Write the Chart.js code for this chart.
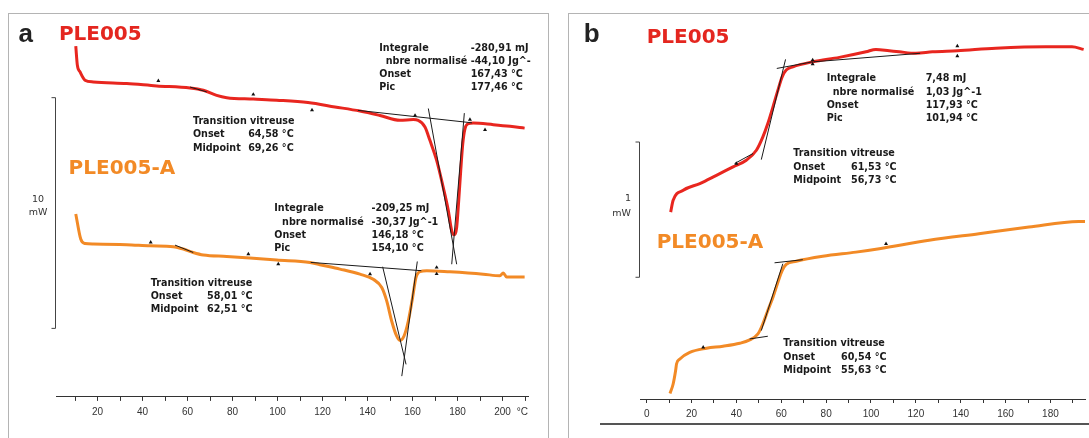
<!DOCTYPE html>
<html>
<head>
<meta charset="utf-8">
<title>DSC PLE005 / PLE005-A</title>
<script src="https://cdn.jsdelivr.net/npm/chart.js@4.4.1/dist/chart.umd.min.js"></script>
<style>
    html, body { margin: 0; padding: 0; background: #fff; }
    #page { position: relative; width: 1089px; height: 438px; overflow: hidden; background: #fff; }
    canvas { position: absolute; top: 0; }
    .frame { position: absolute; border: 1px solid #b4b4b4; }
    .rule { position: absolute; background: #555; }
    .txt { position: absolute; white-space: nowrap; line-height: 1; transform: translateY(-50%); color: #1a1a1a; }
    .note { font: bold 9.6px "DejaVu Sans", Verdana, sans-serif; }
    .title { font: bold 20px "DejaVu Sans", Verdana, sans-serif; }
    .red { color: #e4261f; }
    .orange { color: #f28a26; }
    .letter { font: bold 26px "Liberation Sans", Arial, sans-serif; color: #222; }
    .unit { font: 9.5px "DejaVu Sans", Verdana, sans-serif; color: #333; text-align: center; }
    .deg { font: 10px "Liberation Sans", Arial, sans-serif; color: #333; }
</style>
</head>
<body>
<div id="page">
    <div class="frame" style="left:8px;top:13px;width:539px;height:440px"></div>
    <div class="frame" style="left:568px;top:13px;width:540px;height:440px"></div>
    <div class="rule" style="left:600px;top:423px;width:489px;height:2px"></div>

    <canvas id="chartA" width="560" height="438" style="left:0"></canvas>
    <canvas id="chartB" width="529" height="438" style="left:560px"></canvas>

    <!-- panel a -->
    <div class="txt letter" style="left:18.6px;top:32.7px">a</div>
    <div class="txt title red" style="left:58.9px;top:33.3px">PLE005</div>
    <div class="txt title orange" style="left:68.6px;top:166.7px">PLE005-A</div>

    <div class="txt note" style="left:379.3px;top:46.7px">Integrale</div>
    <div class="txt note" style="left:385.7px;top:60px">nbre normalisé</div>
    <div class="txt note" style="left:379.3px;top:72.5px">Onset</div>
    <div class="txt note" style="left:379.3px;top:85.7px">Pic</div>
    <div class="txt note" style="left:470.7px;top:46.7px">-280,91 mJ</div>
    <div class="txt note" style="left:470.7px;top:60px">-44,10 Jg^-</div>
    <div class="txt note" style="left:470.7px;top:72.5px">167,43 °C</div>
    <div class="txt note" style="left:470.7px;top:85.7px">177,46 °C</div>

    <div class="txt note" style="left:192.9px;top:120px">Transition vitreuse</div>
    <div class="txt note" style="left:192.9px;top:133.3px">Onset</div>
    <div class="txt note" style="left:192.9px;top:146.7px">Midpoint</div>
    <div class="txt note" style="left:248.2px;top:133.3px">64,58 °C</div>
    <div class="txt note" style="left:248.2px;top:146.7px">69,26 °C</div>

    <div class="txt note" style="left:274.3px;top:207.3px">Integrale</div>
    <div class="txt note" style="left:282.1px;top:221px">nbre normalisé</div>
    <div class="txt note" style="left:274.3px;top:234px">Onset</div>
    <div class="txt note" style="left:274.3px;top:246.7px">Pic</div>
    <div class="txt note" style="left:371.5px;top:207.3px">-209,25 mJ</div>
    <div class="txt note" style="left:371.5px;top:221px">-30,37 Jg^-1</div>
    <div class="txt note" style="left:371.5px;top:234px">146,18 °C</div>
    <div class="txt note" style="left:371.5px;top:246.7px">154,10 °C</div>

    <div class="txt note" style="left:150.7px;top:281.7px">Transition vitreuse</div>
    <div class="txt note" style="left:150.7px;top:295px">Onset</div>
    <div class="txt note" style="left:150.7px;top:307.7px">Midpoint</div>
    <div class="txt note" style="left:207.1px;top:295px">58,01 °C</div>
    <div class="txt note" style="left:207.1px;top:307.7px">62,51 °C</div>

    <div class="txt unit" style="left:24px;width:28px;top:198px">10</div>
    <div class="txt unit" style="left:24px;width:28px;top:211.3px">mW</div>
    <div class="txt deg" style="left:516.7px;top:411px">°C</div>

    <!-- panel b -->
    <div class="txt letter" style="left:583.7px;top:32.7px">b</div>
    <div class="txt title red" style="left:646.7px;top:36px">PLE005</div>
    <div class="txt title orange" style="left:656.7px;top:240.7px">PLE005-A</div>

    <div class="txt note" style="left:826.7px;top:76.7px">Integrale</div>
    <div class="txt note" style="left:832.7px;top:90.7px">nbre normalisé</div>
    <div class="txt note" style="left:826.7px;top:103.5px">Onset</div>
    <div class="txt note" style="left:826.7px;top:117px">Pic</div>
    <div class="txt note" style="left:925.7px;top:76.7px">7,48 mJ</div>
    <div class="txt note" style="left:925.7px;top:90.7px">1,03 Jg^-1</div>
    <div class="txt note" style="left:925.7px;top:103.5px">117,93 °C</div>
    <div class="txt note" style="left:925.7px;top:117px">101,94 °C</div>

    <div class="txt note" style="left:793.3px;top:152px">Transition vitreuse</div>
    <div class="txt note" style="left:793.3px;top:165.7px">Onset</div>
    <div class="txt note" style="left:793.3px;top:179px">Midpoint</div>
    <div class="txt note" style="left:851px;top:165.7px">61,53 °C</div>
    <div class="txt note" style="left:851px;top:179px">56,73 °C</div>

    <div class="txt note" style="left:783.3px;top:341.7px">Transition vitreuse</div>
    <div class="txt note" style="left:783.3px;top:355.7px">Onset</div>
    <div class="txt note" style="left:783.3px;top:369px">Midpoint</div>
    <div class="txt note" style="left:841px;top:355.7px">60,54 °C</div>
    <div class="txt note" style="left:841px;top:369px">55,63 °C</div>

    <div class="txt unit" style="left:600px;width:31px;top:196.7px;text-align:right">1</div>
    <div class="txt unit" style="left:600px;width:31px;top:211.5px;text-align:right">mW</div>
</div>

<script>
// Temperatures (°C) and heat flow (mW, arbitrary offset)
var tempRedA = [10.3, 11.0, 12.2, 14.4, 18.1, 32.9, 46.3, 61.1, 67.0, 72.9, 77.4, 89.2, 99.6, 113.5, 125.5, 136.6, 145.5, 154.4, 160.3, 162.5, 165.5, 167.7, 170.7, 173.6, 175.9, 177.4, 178.4, 179.6, 180.5, 181.4, 182.3, 183.3, 184.8, 187.0, 195.9, 203.3, 209.8];
var flowRedA = [15.20, 14.38, 14.09, 13.73, 13.65, 13.58, 13.48, 13.39, 13.29, 13.07, 12.97, 12.91, 12.86, 12.76, 12.57, 12.39, 12.20, 11.99, 12.02, 11.99, 11.70, 11.12, 10.25, 9.09, 8.07, 7.20, 7.03, 7.35, 8.51, 9.81, 10.97, 11.63, 11.84, 11.87, 11.80, 11.73, 11.65];

var tempOrangeA = [10.3, 12.5, 14.4, 18.1, 32.9, 43.3, 53.6, 58.1, 62.5, 67.0, 77.4, 87.7, 99.6, 114.4, 118.8, 127.7, 136.6, 142.5, 146.3, 148.5, 150.7, 152.9, 154.4, 156.2, 158.1, 160.0, 161.5, 163.3, 166.3, 176.6, 191.4, 198.8, 200.3, 201.8, 209.8];
var flowOrangeA = [7.93, 6.84, 6.65, 6.63, 6.60, 6.55, 6.51, 6.41, 6.26, 6.15, 6.09, 6.02, 5.93, 5.83, 5.73, 5.54, 5.32, 5.10, 4.74, 4.16, 3.29, 2.64, 2.45, 2.64, 3.29, 4.30, 5.17, 5.43, 5.47, 5.42, 5.32, 5.25, 5.37, 5.20, 5.20];

var tempRedB = [10.7, 11.8, 16.3, 23.7, 31.1, 38.5, 44.4, 48.9, 51.8, 54.0, 56.3, 58.5, 60.4, 62.2, 65.2, 74.0, 85.9, 97.8, 102.2, 108.1, 112.6, 120.0, 127.4, 138.5, 155.6, 177.8, 189.6, 194.8];
var flowRedB = [1.382, 1.469, 1.543, 1.593, 1.654, 1.716, 1.765, 1.839, 1.938, 2.037, 2.160, 2.284, 2.382, 2.432, 2.456, 2.493, 2.526, 2.567, 2.585, 2.575, 2.567, 2.556, 2.567, 2.575, 2.593, 2.604, 2.604, 2.585];

var tempOrangeB = [10.4, 11.8, 12.9, 13.3, 14.8, 19.2, 26.7, 34.0, 41.5, 45.9, 49.6, 51.8, 54.0, 56.3, 58.5, 60.4, 62.2, 66.7, 78.5, 93.3, 103.7, 125.9, 148.1, 170.4, 192.6, 195.5];
var flowOrangeB = [0.041, 0.111, 0.210, 0.259, 0.296, 0.345, 0.375, 0.390, 0.412, 0.437, 0.481, 0.556, 0.654, 0.753, 0.864, 0.950, 0.995, 1.019, 1.056, 1.086, 1.111, 1.173, 1.222, 1.271, 1.313, 1.313];

// Baselines and tangents from the analysis software ([°C, mW] end points)
var guidesA = [
    [[135.7, 12.42], [186.4, 11.88]],
    [[167.0, 12.50], [179.6, 5.75]],
    [[183.0, 12.30], [177.4, 5.75]],
    [[61.1, 13.43], [68.5, 13.22]],
    [[114.7, 5.83], [163.9, 5.47]],
    [[146.7, 5.64], [157.1, 1.41]],
    [[162.1, 5.87], [155.2, 0.90]],
    [[54.4, 6.58], [62.5, 6.26]]
];
var guidesB = [
    [[39.2, 1.741], [47.4, 1.815]],
    [[51.1, 1.770], [61.9, 2.511]],
    [[58.0, 2.444], [74.0, 2.493]],
    [[74.4, 2.493], [121.9, 2.556]],
    [[57.0, 1.007], [69.6, 1.030]],
    [[60.7, 1.000], [51.1, 0.506]],
    [[45.9, 0.444], [54.0, 0.464]]
];

// Range markers
var marksA = [[47.0, 13.70], [89.2, 13.11], [115.3, 12.43], [161.1, 12.20], [185.5, 12.02], [192.2, 11.58],
              [43.6, 6.70], [87.0, 6.19], [100.3, 5.76], [141.1, 5.32], [170.7, 5.61], [170.7, 5.33]];
var marksB = [[40.0, 1.741], [74.0, 2.506], [74.0, 2.476], [138.5, 2.610], [138.5, 2.536],
              [25.2, 0.382], [106.7, 1.148]];

// Scale bars (mW)
var barA = [2.97, 12.97];
var barB = [0.90, 1.90];

var RED = '#e8261f';
var ORANGE = '#f28a26';

function toPoints(xs, ys) {
    return xs.map(function(x, i) { return { x: x, y: ys[i] }; });
}

function pairPoints(pairs) {
    return pairs.map(function(p) { return { x: p[0], y: p[1] }; });
}

function curve(xs, ys, color) {
    return {
        data: toPoints(xs, ys),
        borderColor: color,
        borderWidth: 3,
        pointRadius: 0,
        cubicInterpolationMode: 'monotone',
        order: 3
    };
}

function guideSets(list) {
    return list.map(function(seg) {
        return { data: pairPoints(seg), borderColor: '#1a1a1a', borderWidth: 1, pointRadius: 0, order: 1 };
    });
}

function markSet(list) {
    return {
        type: 'scatter',
        data: pairPoints(list),
        pointStyle: 'triangle',
        pointRadius: 2.3,
        backgroundColor: '#111',
        borderColor: '#111',
        borderWidth: 0,
        order: 0
    };
}

// Draws the vertical mW scale bar on the left edge of the plot area
var scaleBarPlugin = {
    id: 'scaleBar',
    afterDatasetsDraw: function(chart, args, opts) {
        var y = chart.scales.y;
        var x = Math.round(chart.chartArea.left) - 0.5;
        var top = y.getPixelForValue(opts.range[1]);
        var bottom = y.getPixelForValue(opts.range[0]);
        var ctx = chart.ctx;
        ctx.save();
        ctx.strokeStyle = '#444';
        ctx.lineWidth = 1;
        ctx.beginPath();
        ctx.moveTo(x - 4, top);
        ctx.lineTo(x, top);
        ctx.lineTo(x, bottom);
        ctx.lineTo(x - 4, bottom);
        ctx.stroke();
        ctx.restore();
    }
};

function makeChart(id, datasets, xRange, yMax, bar, padding) {
    return new Chart(document.getElementById(id), {
        type: 'line',
        data: { datasets: datasets },
        plugins: [scaleBarPlugin],
        options: {
            responsive: false,
            animation: false,
            devicePixelRatio: 1,
            layout: { padding: padding },
            plugins: {
                legend: { display: false },
                tooltip: { enabled: false },
                scaleBar: { range: bar }
            },
            scales: {
                x: {
                    type: 'linear',
                    min: xRange[0],
                    max: xRange[1],
                    grid: { drawOnChartArea: false, drawTicks: true, tickLength: 4, color: '#333' },
                    border: { color: '#333', width: 1 },
                    ticks: {
                        stepSize: 10,
                        includeBounds: false,
                        autoSkip: false,
                        maxRotation: 0,
                        padding: 5,
                        color: '#333',
                        font: { family: 'Liberation Sans', size: 10 },
                        callback: function(v) { return v % 20 === 0 && v <= 200 ? String(v) : ''; }
                    }
                },
                y: { type: 'linear', display: false, min: 0, max: yMax }
            }
        }
    });
}

makeChart('chartA',
    [curve(tempRedA, flowRedA, RED), curve(tempOrangeA, flowOrangeA, ORANGE)]
        .concat(guideSets(guidesA)).concat([markSet(marksA)]),
    [1.6, 211.3], 16.64, barA,
    { left: 56.2, right: 32, top: 13, bottom: 15.1 });

makeChart('chartB',
    [curve(tempRedB, flowRedB, RED), curve(tempOrangeB, flowOrangeB, ORANGE)]
        .concat(guideSets(guidesB)).concat([markSet(marksB)]),
    [-2.8, 195.4], 2.854, barB,
    { left: 80.4, right: 0, top: 13, bottom: 13 });
</script>
</body>
</html>
